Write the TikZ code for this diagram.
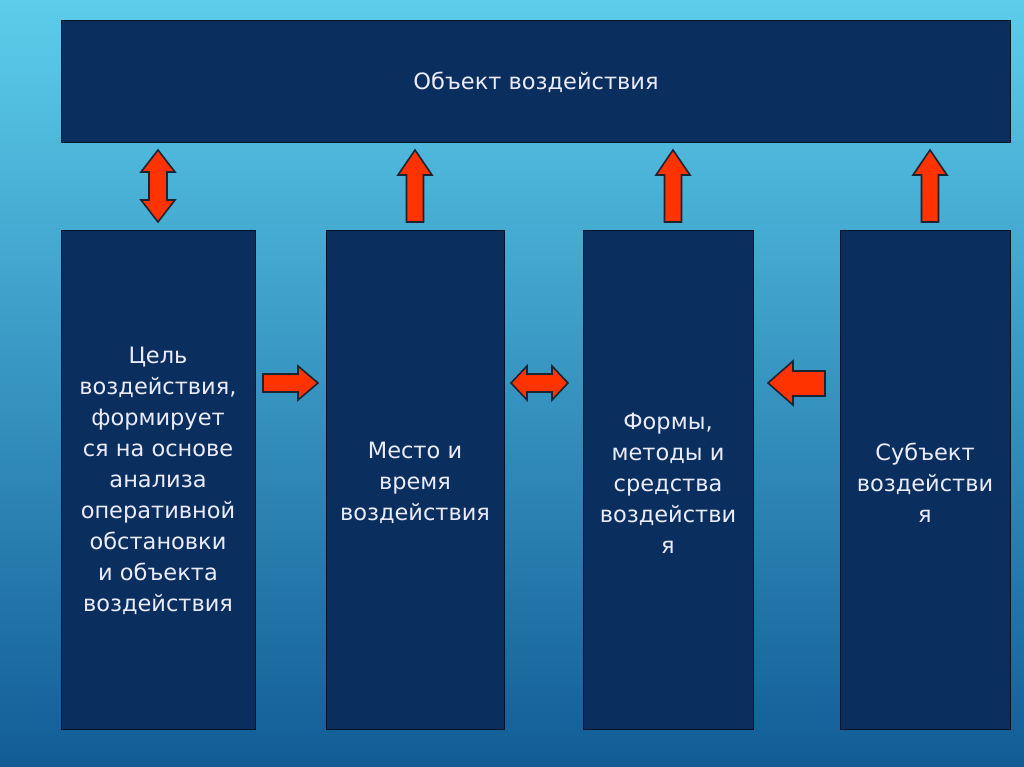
\documentclass[tikz,border=0pt]{standalone}
\usepackage{fontspec}
\setmainfont{DejaVu Sans}
\begin{document}
\begin{tikzpicture}[x=1pt,y=-1pt,
  box/.style={draw=black!60!navy, line width=0.6pt, fill=navy},
  lbl/.style={text=white!92!blue, font=\fontsize{22.5}{31}\selectfont, align=center},
  blk/.style={fill=arrowred, draw=arrowline, line width=1.6pt, line join=miter}]
\definecolor{navy}{HTML}{0A2F5E}
\definecolor{arrowred}{HTML}{FF3300}
\definecolor{arrowline}{HTML}{1A2433}
\definecolor{bgtop}{HTML}{5CCDEB}
\definecolor{bgbot}{HTML}{125C96}
\shade[top color=bgtop, bottom color=bgbot] (0,0) rectangle (1024,767);
\useasboundingbox (0,0) rectangle (1024,767);
% boxes
\path[box] (61,20) rectangle (1010,142);
\node[lbl] (obj) at (536,82) {Объект воздействия};
\path[box] (61,230) rectangle (255,729);
\node[lbl] (goal) at (158,481) {Цель\\воздействия,\\формирует\\ся на основе\\анализа\\оперативной\\обстановки\\и объекта\\воздействия};
\path[box] (326,230) rectangle (504,729);
\node[lbl] (place) at (415,483) {Место и\\время\\воздействия};
\path[box] (583,230) rectangle (753,729);
\node[lbl] (forms) at (668,483) {Формы,\\методы и\\средства\\воздействи\\я};
\path[box] (840,230) rectangle (1010,729);
\node[lbl] (subj) at (925,483) {Субъект\\воздействи\\я};
% vertical double arrow
\path[blk] (158,150) -- (175,172) -- (167,172) -- (167,200) -- (175,200) -- (158,222)
  -- (141,200) -- (149,200) -- (149,172) -- (141,172) -- cycle;
% up arrows
\foreach \cx in {415,673,930}{
  \path[blk] (\cx,150) -- (\cx+17,175) -- (\cx+8.5,175) -- (\cx+8.5,222) -- (\cx-8.5,222)
    -- (\cx-8.5,175) -- (\cx-17,175) -- cycle;
}
% right arrow
\path[blk] (318,383) -- (298,366) -- (298,374) -- (263,374) -- (263,392) -- (298,392) -- (298,400) -- cycle;
% horizontal double arrow
\path[blk] (511,383) -- (527,366) -- (527,374) -- (552,374) -- (552,366) -- (568,383)
  -- (552,400) -- (552,392) -- (527,392) -- (527,400) -- cycle;
% left arrow
\path[blk] (768,383) -- (793,361) -- (793,371) -- (825,371) -- (825,396) -- (793,396) -- (793,405) -- cycle;
\end{tikzpicture}
\end{document}
